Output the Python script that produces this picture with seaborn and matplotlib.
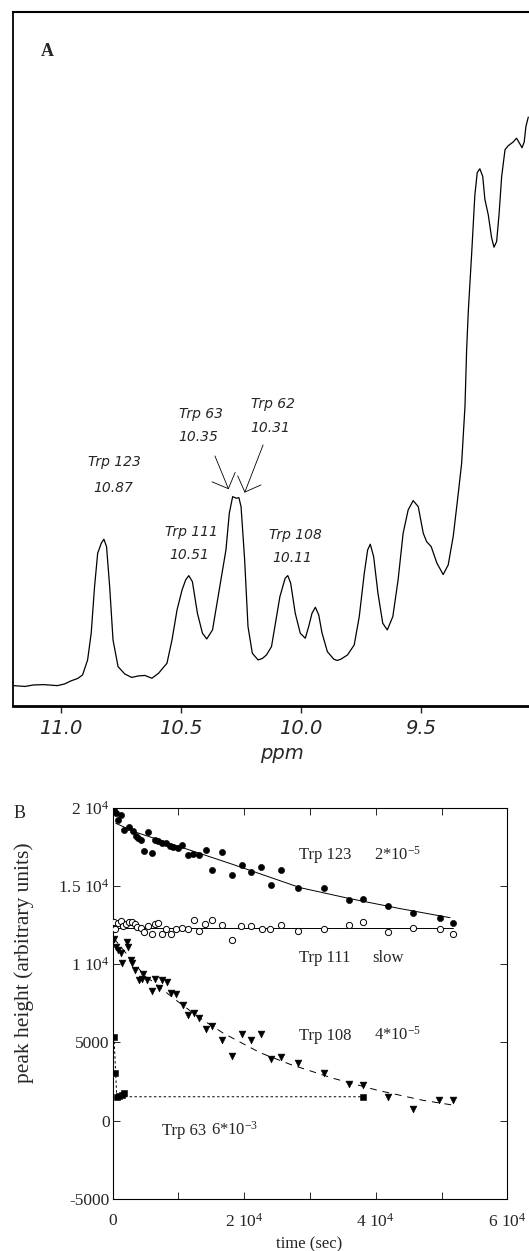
import numpy as np
import pandas as pd
import seaborn as sns
import matplotlib.pyplot as plt

# Panel A: 1H NMR trace (indole NH region)
ppm = [11.198, 11.15, 11.114, 11.07, 11.015, 10.985, 10.959, 10.93, 10.910, 10.889,
       10.874, 10.860, 10.847, 10.832, 10.821, 10.810, 10.797, 10.783, 10.762, 10.734,
       10.705, 10.678, 10.65, 10.621, 10.593, 10.558, 10.537, 10.516, 10.495, 10.480,
       10.467, 10.452, 10.431, 10.410, 10.392, 10.368, 10.347, 10.326, 10.312, 10.298,
       10.284, 10.269, 10.258, 10.249, 10.234, 10.220, 10.202, 10.178, 10.160, 10.143,
       10.122, 10.108, 10.087, 10.065, 10.054, 10.042, 10.023, 10.002, 9.981, 9.967,
       9.953, 9.939, 9.925, 9.911, 9.889, 9.862, 9.848, 9.833, 9.805, 9.777,
       9.756, 9.735, 9.721, 9.710, 9.696, 9.678, 9.658, 9.639, 9.616, 9.594,
       9.573, 9.552, 9.531, 9.510, 9.489, 9.475, 9.456, 9.432, 9.406, 9.385,
       9.364, 9.347, 9.329, 9.315, 9.308, 9.301, 9.287, 9.274, 9.264, 9.253,
       9.241, 9.232, 9.218, 9.204, 9.194, 9.183, 9.173, 9.162, 9.148, 9.135,
       9.114, 9.100, 9.086, 9.077, 9.068, 9.061, 9.051]
intensity = [20.8, 20.0, 21.5, 21.8, 20.8, 22.5, 25.5, 28.0, 31.5, 46.5,
             73.2, 119.8, 153.2, 163.2, 167.2, 159.8, 119.8, 66.5, 39.8, 32.5,
             29.0, 30.5, 31.0, 28.2, 33.2, 43.2, 66.5, 96.5, 116.5, 126.5,
             130.8, 124.8, 93.2, 73.2, 67.5, 76.5, 106.5, 136.5, 156.5, 193.2,
             209.8, 208.2, 208.8, 199.8, 146.5, 79.8, 53.2, 46.5, 48.0, 51.5,
             59.8, 79.8, 109.8, 128.2, 130.8, 123.2, 93.2, 73.2, 68.2, 79.8,
             93.2, 99.2, 91.5, 73.2, 54.8, 47.2, 46.0, 47.2, 51.5, 61.5,
             89.8, 133.2, 156.5, 162.2, 149.8, 113.2, 83.2, 76.5, 89.8, 126.5,
             173.2, 196.5, 205.8, 199.8, 173.2, 164.8, 159.8, 143.2, 131.9, 141.5,
             170.2, 204.7, 242.9, 300.3, 357.7, 396.0, 453.4, 510.8, 533.8, 537.6,
             530.0, 507.0, 491.7, 468.7, 459.2, 464.9, 491.7, 530.0, 556.7, 560.6,
             564.4, 568.2, 562.5, 558.7, 564.4, 579.7, 589.3]

peak_labels = ["Trp 123", "10.87", "Trp 63", "10.35", "Trp 62", "10.31",
               "Trp 111", "10.51", "Trp 108", "10.11"]
peak_label_ppm = [10.779, 10.783, 10.416, 10.426, 10.116, 10.128,
                  10.454, 10.466, 10.024, 10.037]
peak_label_int = [244.8, 218.8, 292.5, 269.2, 302.5, 278.2,
                  174.8, 151.5, 171.5, 148.2]

# Panel B: peak height vs time
t_trp123 = [230, 540, 880, 1250, 1750, 2550, 3160, 3570, 3920, 4290,
            4790, 5440, 5960, 6460, 6970, 7470, 8120, 8740, 9250, 10000,
            10510, 11530, 12280, 13190, 14210, 15070, 16600, 18120, 19630, 21050,
            22520, 24090, 25570, 28240, 32150, 35990, 38030, 41920, 45720, 49780,
            51700]
h_trp123 = [19860, 19640, 19190, 19500, 18590, 18760, 18500, 18220, 18080, 17950,
            17220, 18440, 17100, 17950, 17860, 17730, 17730, 17580, 17470, 17440,
            17630, 16950, 17060, 16950, 17310, 15990, 17160, 15670, 16310, 15880,
            16200, 15080, 15990, 14870, 14870, 14080, 14140, 13740, 13290, 12950,
            12660]

t_trp111 = [230, 380, 880, 1250, 1550, 2050, 2550, 2920, 3420, 3680,
            4290, 4830, 5440, 5960, 6460, 6960, 7480, 8130, 8850, 9650,
            10560, 11520, 12430, 13190, 14060, 15080, 16600, 18120, 19530, 21050,
            22680, 23940, 25570, 28240, 32150, 35990, 38030, 41920, 45720, 49780,
            51710]
h_trp111 = [12690, 12270, 12630, 12760, 12420, 12550, 12690, 12690, 12590, 12370,
            12340, 12050, 12420, 11910, 12550, 12630, 11950, 12270, 11910, 12270,
            12340, 12250, 12850, 12120, 12550, 12850, 12480, 11530, 12420, 12420,
            12270, 12270, 12480, 12100, 12270, 12480, 12690, 12050, 12340, 12270,
            11950]

t_trp108 = [230, 530, 880, 1250, 1400, 2160, 2400, 2770, 3010, 3420,
            4070, 4440, 4680, 5290, 5960, 6460, 7110, 7480, 8240, 8850,
            9650, 10670, 11520, 12390, 13190, 14210, 15080, 16600, 18120, 19640,
            21010, 22570, 24050, 25570, 28240, 32150, 35990, 38030, 41920, 45720,
            49670, 51710]
h_trp108 = [11630, 11100, 10890, 10720, 10080, 11420, 11100, 10250, 10100, 9610,
            8970, 9080, 9400, 9020, 8290, 9080, 8450, 8970, 8870, 8130,
            8080, 7380, 6740, 6890, 6530, 5890, 6040, 5150, 4130, 5570,
            5150, 5510, 3940, 4080, 3700, 3060, 2340, 2280, 1530, 770,
            1320, 1320]

t_trp63 = [230, 380, 640, 1030, 1400, 1750, 38030]
h_trp63 = [5360, 3060, 1490, 1580, 1640, 1750, 1530]

# fitted curves
fit123_t = [500, 3400, 10600, 18800, 28500, 36100, 43700, 51300]
fit123_h = [19000, 18450, 17450, 16300, 14890, 14185, 13550, 12970]
fit111_t = [200, 51700]
fit111_h = [12280, 12280]
fit108_t = [200, 4700, 9500, 13300, 16800, 22400, 27000, 33600, 40200, 47200, 51700]
fit108_h = [11650, 9350, 7750, 6550, 5600, 4350, 3600, 2700, 1950, 1300, 1000]
fit63_t = [230, 640, 38030]
fit63_h = [5360, 1530, 1530]

x_ticks = [0, 10000, 20000, 30000, 40000, 50000, 60000]
x_ticklabels = ["0", "", "2 10$^4$", "", "4 10$^4$", "", "6 10$^4$"]
y_ticks = [-5000, 0, 5000, 10000, 15000, 20000]
y_ticklabels = ["-5000", "0", "5000", "1 10$^4$", "1.5 10$^4$", "2 10$^4$"]

sns.set_style("ticks")
plt.rcParams["font.family"] = ["Liberation Serif", "DejaVu Serif"]
plt.rcParams["mathtext.fontset"] = "custom"
plt.rcParams["mathtext.rm"] = "Liberation Serif"
plt.rcParams["mathtext.it"] = "Liberation Serif:italic"
plt.rcParams["axes.edgecolor"] = "black"

fig = plt.figure(figsize=(5.29, 12.51), dpi=100)

# ---------------- panel A ----------------
axA = fig.add_axes([0.0251, 0.4353, 0.9749, 0.5552])
sns.lineplot(x=ppm, y=intensity, ax=axA, color="black", linewidth=0.9, estimator=None)
axA.set_xlim(11.199, 9.048)
axA.set_ylim(0, 694.5)
axA.set_yticks([])
axA.set_xticks([11.0, 10.5, 10.0, 9.5])
axA.set_xticklabels(["11.0", "10.5", "10.0", "9.5"], fontsize=14,
                    fontstyle="italic", family="DejaVu Sans")
axA.tick_params(axis="x", direction="out", length=5, width=1, pad=4)
axA.spines["right"].set_visible(False)
axA.spines["bottom"].set_linewidth(2.0)
axA.spines["left"].set_linewidth(1.3)
axA.spines["top"].set_linewidth(1.5)
axA.set_xlabel("ppm", fontsize=14, fontstyle="italic", family="DejaVu Sans")
axA.xaxis.set_label_coords(0.5205, -0.054)
axA.set_ylabel("")

for lab, xp, yp in zip(peak_labels, peak_label_ppm, peak_label_int):
    axA.text(xp, yp, lab, ha="center", va="center", fontsize=10,
             fontstyle="italic", family="DejaVu Sans")

arrow_kw = dict(arrowstyle="->,head_length=0.9,head_width=0.9", color="black",
                lw=0.6, shrinkA=0, shrinkB=0, mutation_scale=10)
axA.annotate("", xy=(10.301, 217.2), xytext=(10.358, 250.5), arrowprops=arrow_kw)
axA.annotate("", xy=(10.234, 213.8), xytext=(10.157, 261.5), arrowprops=arrow_kw)

fig.text(47 / 529, 1 - 51 / 1251, "A", fontsize=13, fontweight="bold",
         ha="center", va="center")

# ---------------- panel B ----------------
axB = fig.add_axes([0.2127, 0.0416, 0.7463, 0.3128])

sns.lineplot(x=fit123_t, y=fit123_h, ax=axB, color="black", linewidth=0.7, estimator=None)
sns.lineplot(x=fit111_t, y=fit111_h, ax=axB, color="black", linewidth=0.7, estimator=None)
sns.lineplot(x=fit108_t, y=fit108_h, ax=axB, color="black", linewidth=0.7,
             linestyle=(0, (7, 6)), estimator=None, sort=False)
sns.lineplot(x=fit63_t, y=fit63_h, ax=axB, color="black", linewidth=0.7,
             linestyle=(0, (2.5, 2.5)), estimator=None, sort=False)

sns.scatterplot(x=t_trp123, y=h_trp123, ax=axB, marker="o", s=20, color="black",
                edgecolor="black", linewidth=0.4, zorder=3)
sns.scatterplot(x=t_trp111, y=h_trp111, ax=axB, marker="o", s=20, color="white",
                edgecolor="black", linewidth=0.7, zorder=3)
sns.scatterplot(x=t_trp108, y=h_trp108, ax=axB, marker="v", s=24, color="black",
                edgecolor="black", linewidth=0.4, zorder=3)
sns.scatterplot(x=t_trp63, y=h_trp63, ax=axB, marker="s", s=16, color="black",
                edgecolor="black", linewidth=0.4, zorder=3)

axB.set_xlim(0, 60000)
axB.set_ylim(-5000, 20000)
axB.set_xticks(x_ticks)
axB.set_xticklabels(x_ticklabels, fontsize=12.5)
axB.set_yticks(y_ticks)
axB.set_yticklabels(y_ticklabels, fontsize=12.5)
axB.tick_params(axis="both", direction="in", length=5, width=0.7,
                top=True, right=True)
axB.tick_params(axis="x", pad=10)
axB.tick_params(axis="y", pad=2)
for sp in axB.spines.values():
    sp.set_linewidth(0.8)

axB.set_xlabel("time (sec)", fontsize=12)
axB.xaxis.set_label_coords(0.497, -0.0945)
axB.set_ylabel("peak height (arbitrary units)", fontsize=15.5)
axB.yaxis.set_label_coords(-0.1996, 0.603)

txt_kw = dict(fontsize=12, va="baseline", ha="left")
axB.text(28390, 16700, "Trp 123", **txt_kw)
axB.text(39740, 16700, "2*10$^{-5}$", **txt_kw)
axB.text(28390, 10160, "Trp 111", **txt_kw)
axB.text(39540, 10160, "slow", **txt_kw)
axB.text(28390, 5160, "Trp 108", **txt_kw)
axB.text(39740, 5160, "4*10$^{-5}$", **txt_kw)
axB.text(7520, -910, "Trp 63", **txt_kw)
axB.text(14950, -910, "6*10$^{-3}$", **txt_kw)

fig.text(19.5 / 529, 1 - 814 / 1251, "B", fontsize=13, ha="center", va="center")

fig.savefig("out.png", dpi=100)
